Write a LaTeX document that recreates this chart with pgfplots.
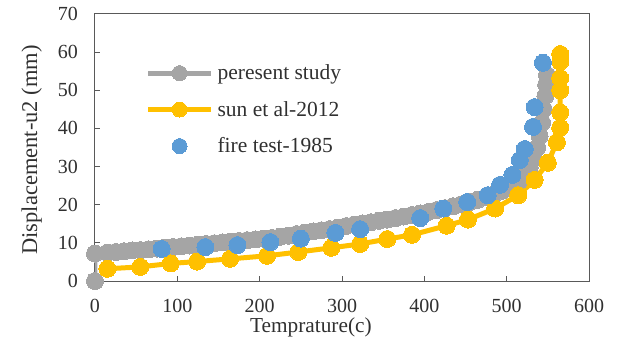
\documentclass[border=0pt]{standalone}
\usepackage{fontspec}
\setmainfont{Liberation Serif}
\usepackage{pgfplots}
\pgfplotsset{compat=1.18}
\definecolor{cgray}{HTML}{A5A5A5}
\definecolor{cyel}{HTML}{FFC000}
\definecolor{cblue}{HTML}{5B9BD5}
\definecolor{caxis}{HTML}{595959}
\definecolor{ctext}{HTML}{303030}
\begin{document}
\begin{tikzpicture}[font=\fontsize{20bp}{24bp}\selectfont]
\useasboundingbox (-95bp,-68bp) rectangle (524bp,281bp);
\begin{axis}[
  at={(0,0)}, anchor=south west,
  scale only axis, width=494bp, height=267bp,
  xmin=0, xmax=600, ymin=0, ymax=70,
  xtick={0,100,...,600}, ytick={0,10,...,70},
  tick align=inside, xtick pos=bottom, ytick pos=left,
  major tick length=5bp,
  axis line style={caxis, line width=1bp},
  tick style={caxis, line width=1bp},
  /pgf/number format/assume math mode=true,
  ticklabel style={font=\fontsize{20bp}{24bp}\selectfont, text=ctext, inner sep=0pt},
  xticklabel style={yshift=-18bp},
  yticklabel style={xshift=-17bp},
  xlabel={Temprature(c)},
  ylabel={Displacement-u2 (mm)},
  xlabel style={at={(axis description cs:0.437,0)}, anchor=base, yshift=-51bp, inner sep=0pt, font=\fontsize{21.3bp}{25bp}\selectfont, text=ctext},
  ylabel style={at={(axis description cs:-0.1174,0.491)}, anchor=base, inner sep=0pt, rotate=0, font=\fontsize{22.5bp}{26bp}\selectfont, text=ctext},
  legend image code/.code={\draw[mark repeat=2,mark phase=2,#1,mark size=7.5bp] plot coordinates {(0bp,0bp) (31.5bp,0bp) (63bp,0bp)};},
  legend style={at={(axis description cs:0.102,0.81)}, anchor=north west, draw=none, fill=none, inner sep=0pt, row sep=20bp, column sep=4bp, nodes={inner sep=0pt, text=ctext}, font=\fontsize{21.5bp}{25bp}\selectfont},
  legend cell align=left,
]
\addplot[color=cgray, line width=5bp, mark=*, mark size=8.5bp, mark options={fill=cgray, line width=0pt}] coordinates {
(0,0) (0,7.2) (15,7.4) (25,7.6) (35,7.8) (45,8.0) (55,8.1) (65,8.3) (75,8.5) (85,8.7) (95,8.9)
(105,9.1) (115,9.3) (125,9.5) (135,9.7) (145,9.9) (155,10.1) (165,10.3) (175,10.5) (185,10.7) (195,10.9)
(205,11.1) (215,11.3) (225,11.6) (235,11.9) (245,12.3) (255,12.7) (265,13.0) (275,13.3) (285,13.6) (295,14.0)
(305,14.4) (315,14.8) (325,15.1) (335,15.4) (345,15.8) (355,16.1) (365,16.5) (375,16.9) (385,17.3) (395,17.7)
(405,18.1) (415,18.6) (425,19.1) (435,19.6) (445,20.1) (455,20.7) (465,21.3) (475,22.0) (485,22.8) (495,23.7)
(505,24.8) (515,26.2) (522,27.8) (528,29.8) (533,32.2) (537,35) (540,38) (543,41.5) (545,45) (547,48.5)
(548,51.5) (549,54)
};
\addlegendentry{peresent study}
\addplot[color=cyel, line width=5bp, mark=*, mark size=8.5bp, mark options={fill=cyel, line width=0pt}] coordinates {
(15,3.2) (55,3.7) (92,4.6) (124,5.1) (164,5.8) (209,6.6) (247,7.6) (287,8.7) (322,9.7) (355,11.0)
(385,12.1) (427,14.5) (453,16.1) (486,19.0) (514,22.5) (534,26.5) (550,31.0) (561,36.4) (565,40.2)
(565,44.2) (565,50.0) (565,53.2) (565,57.5) (565,59.5)
};
\addlegendentry{sun et al-2012}
\addplot[only marks, color=cblue, mark=*, mark size=8.5bp, mark options={fill=cblue, line width=0pt}] coordinates {
(81,8.4) (134,8.9) (173,9.4) (213,10.2) (250,11.1) (292,12.6) (322,13.6) (395,16.5) (423,19.0)
(452,20.7) (477,22.5) (492,25.2) (507,27.8) (516,31.7) (522,34.6) (532,40.4) (534,45.6) (544,57.2)
};
\addlegendentry{fire test-1985}
\end{axis}
\end{tikzpicture}
\end{document}
